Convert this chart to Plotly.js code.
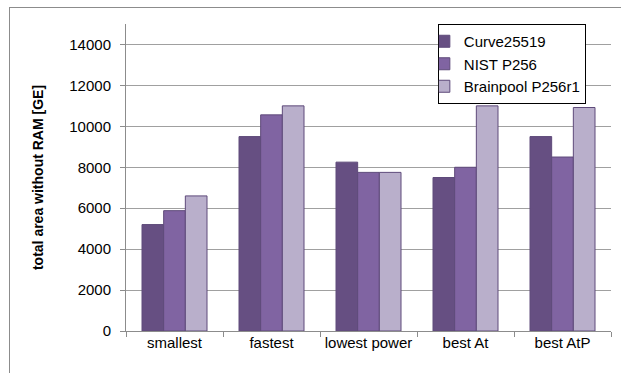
<!DOCTYPE html>
<html>
<head>
<meta charset="utf-8">
<script src="https://cdn.plot.ly/plotly-3.0.1.min.js"></script>
<style>
html,body{margin:0;padding:0;background:#fff;}
#frame{position:absolute;left:9px;top:7px;width:640px;height:400px;border-left:1px solid #8c8c8c;border-top:1px solid #8c8c8c;}
#chart{position:absolute;left:0;top:0;width:621px;height:373px;}
</style>
</head>
<body>
<div id="frame"></div>
<div id="chart"></div>
<script>
var categories = ["smallest", "fastest", "lowest power", "best At", "best AtP"];
var curve25519 = [5200, 9500, 8250, 7500, 9500];
var nistP256 = [5880, 10560, 7750, 8000, 8500];
var brainpoolP256r1 = [6600, 11000, 7750, 11000, 10920];
var seriesNames = ["Curve25519", "NIST P256", "Brainpool P256r1"];
var seriesColors = ["#664f82", "#8064a2", "#b9afcb"];
var yTicks = [0, 2000, 4000, 6000, 8000, 10000, 12000, 14000];

var values = [curve25519, nistP256, brainpoolP256r1];
var traces = values.map(function(v, i){
  return {
    type: "bar",
    x: categories,
    y: v,
    name: seriesNames[i],
    marker: {color: seriesColors[i], line: {color: "#5e4a7a", width: 1}},
    hoverinfo: "x+y+name"
  };
});

var layout = {
  width: 621, height: 373,
  margin: {l: 126, r: 10, t: 24, b: 42},
  paper_bgcolor: "rgba(0,0,0,0)",
  plot_bgcolor: "rgba(0,0,0,0)",
  font: {family: "Liberation Sans, Arial, sans-serif", color: "#000", size: 15},
  barmode: "group",
  bargap: 0.33,
  bargroupgap: 0,
  showlegend: true,
  legend: {
    x: 0.643, y: 1.0, xanchor: "left", yanchor: "top",
    xref: "paper", yref: "paper",
    bgcolor: "#fff", bordercolor: "#000", borderwidth: 1,
    font: {size: 15}, tracegroupgap: 0, indentation: -15
  },
  xaxis: {
    type: "category",
    showline: true, linecolor: "#8c8c8c", linewidth: 1,
    ticks: "outside", tickson: "boundaries", ticklen: 5, tickcolor: "#8c8c8c",
    showgrid: false, zeroline: false,
    tickfont: {size: 15}, ticklabelstandoff: -2
  },
  yaxis: {
    range: [0, 15000],
    tickvals: yTicks,
    ticktext: yTicks.map(String),
    showline: true, linecolor: "#8c8c8c", linewidth: 1,
    ticks: "outside", ticklen: 5, tickcolor: "#8c8c8c",
    ticklabelstandoff: 6,
    showgrid: true, gridcolor: "#a0a0a0", gridwidth: 1,
    zeroline: false,
    tickfont: {size: 15},
    title: {text: "total area without RAM [GE]", standoff: 22, font: {size: 14, weight: "bold", family: "Liberation Sans, Arial, sans-serif"}}
  }
};

Plotly.newPlot("chart", traces, layout, {displayModeBar: false, staticPlot: true});
</script>
</body>
</html>
